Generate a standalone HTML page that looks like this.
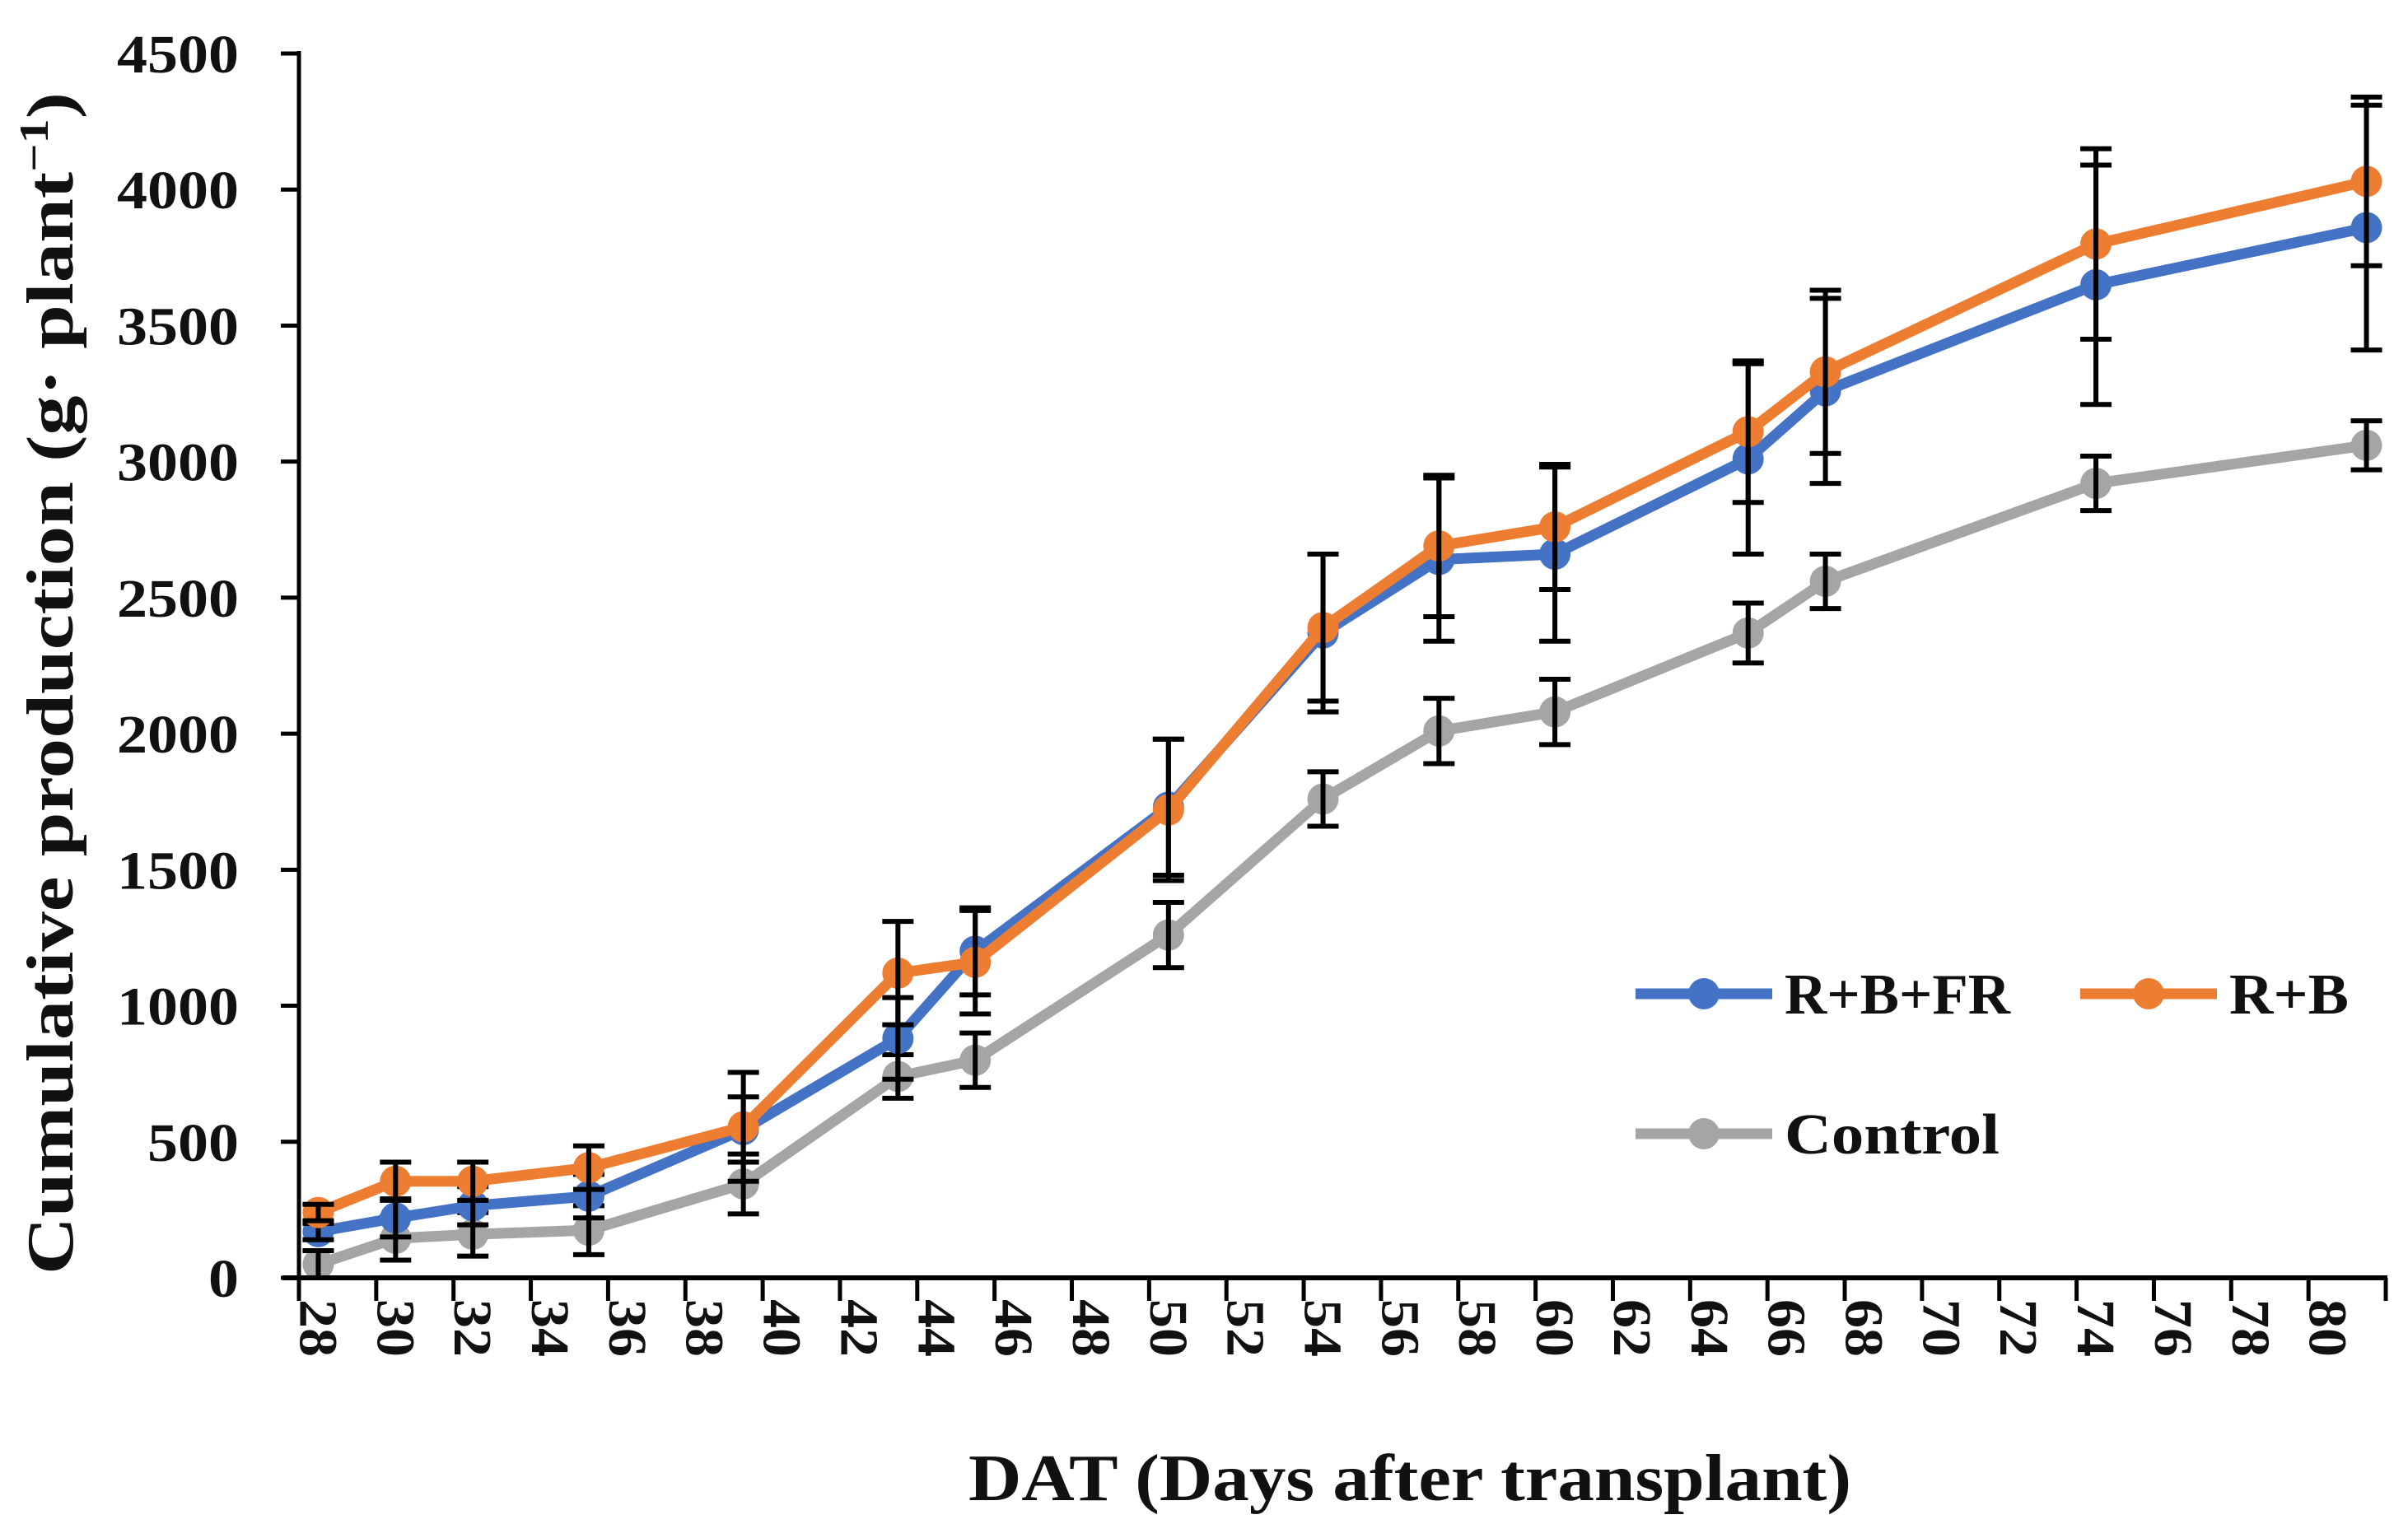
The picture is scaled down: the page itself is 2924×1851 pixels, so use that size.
<!DOCTYPE html>
<html><head><meta charset="utf-8">
<style>
html,body{margin:0;padding:0;background:#fff;}
svg{display:block;}
text{font-family:"Liberation Serif",serif;font-weight:bold;fill:#111;}
</style></head>
<body>
<svg id="chart" width="2924" height="1851" viewBox="0 0 2924 1851" xmlns="http://www.w3.org/2000/svg">
<g id="axes"></g>
<g id="series"></g>
<g id="legend"></g>
<text x="1712" y="1822" font-size="80" text-anchor="middle" textLength="1072" lengthAdjust="spacingAndGlyphs">DAT (Days after transplant)</text>
<text transform="translate(88,830) rotate(-90)" font-size="80" text-anchor="middle" textLength="1436" lengthAdjust="spacingAndGlyphs">Cumulative production (g· plant<tspan dy="-30" font-size="50">−1</tspan><tspan dy="30">)</tspan></text>
</svg>
<script>
const days = [28,30,32,35,39,43,45,50,54,57,60,65,67,74,81];
const blueVals = [170,220,265,300,545,880,1200,1730,2370,2640,2660,3010,3260,3650,3860];
const blueSd = [30,70,70,80,120,150,160,250,290,300,320,350,340,440,450];
const orangeVals = [240,355,355,405,555,1120,1160,1720,2390,2690,2760,3110,3330,3800,4030];
const orangeSd = [30,70,70,80,200,190,190,260,270,260,230,260,300,350,310];
const grayVals = [50,145,160,175,345,740,800,1260,1760,2010,2080,2370,2560,2920,3060];
const graySd = [50,80,80,90,110,80,100,120,100,120,120,110,100,100,90];
const yTicks = [0,500,1000,1500,2000,2500,3000,3500,4000,4500];
const xTickLabels = [28,30,32,34,36,38,40,42,44,46,48,50,52,54,56,58,60,62,64,66,68,70,72,74,76,78,80];

const NS = "http://www.w3.org/2000/svg";
const X0 = 363, X1 = 2897, Y0 = 1552, Y1 = 65;
const dayW = (X1 - X0) / 54;
function xScale(d){ return X0 + (d - 28 + 0.5) * dayW; }
function yScale(v){ return Y0 - v / 4500 * (Y0 - Y1); }
function mk(tag, attrs, parent){ const e = document.createElementNS(NS, tag); for (const k in attrs) e.setAttribute(k, attrs[k]); parent.appendChild(e); return e; }

const axes = document.getElementById('axes');
let e;
e = mk('line',{x1:X0,y1:Y1-3,x2:X0,y2:Y0+2,stroke:'#000','stroke-width':5},axes);


e = mk('line',{x1:X0-20,y1:Y0,x2:X1+2,y2:Y0,stroke:'#000','stroke-width':6},axes);


yTicks.forEach(v => {
  const y = yScale(v);
  const t = mk('line',{x1:X0-22,y1:y,x2:X0,y2:y,stroke:'#000','stroke-width':5},axes);
  
  
  const s = String(v);
  const l = mk('text',{x:290,y:y+23,'font-size':66,'text-anchor':'end',textLength:s.length*37,lengthAdjust:'spacingAndGlyphs'},axes);
  l.textContent = s;
  
  
});
for (let i = 0; i <= 27; i++) {
  const x = X0 + i * 2 * dayW;
  const t = mk('line',{x1:x,y1:Y0,x2:x,y2:Y0+28,stroke:'#000','stroke-width':5},axes);
  
  
}
xTickLabels.forEach(d => {
  const x = xScale(d);
  const l = mk('text',{transform:`translate(${x-22},1578) rotate(90)`,'font-size':66,'text-anchor':'start',textLength:70,lengthAdjust:'spacingAndGlyphs'},axes);
  l.textContent = d;
  
  
});

const seriesG = document.getElementById('series');
function drawSeries(vals, sd, color, name){
  const g = mk('g',{},seriesG);
  
  
  const pts = days.map((d,i)=>xScale(d)+','+yScale(vals[i])).join(' ');
  const pl = mk('polyline',{points:pts,fill:'none',stroke:color,'stroke-width':13,'stroke-linejoin':'round'},g);
  
  
  days.forEach((d,i)=>{
    const c = mk('circle',{cx:xScale(d),cy:yScale(vals[i]),r:19,fill:color},g);
    
    
  });
  return g;
}
function drawErr(vals, sd, name){
  const g = mk('g',{},seriesG);
  
  
  days.forEach((d,i)=>{
    const x = xScale(d), yt = yScale(vals[i]+sd[i]), yb = yScale(Math.max(0,vals[i]-sd[i]));
    const p = mk('path',{d:`M${x},${yt}V${yb}M${x-19},${yt}H${x+19}M${x-19},${yb}H${x+19}`,stroke:'#000','stroke-width':6,fill:'none'},g);
    
    
  });
}
drawSeries(grayVals, graySd, '#a5a5a5', 'control');
drawErr(grayVals, graySd, 'control');
drawSeries(blueVals, blueSd, '#4472c4', 'r-b-fr');
drawErr(blueVals, blueSd, 'r-b-fr');
drawSeries(orangeVals, orangeSd, '#ed7d31', 'r-b');
drawErr(orangeVals, orangeSd, 'r-b');

const lg = document.getElementById('legend');
function legendEntry(x, y, color, label, name, w){
  const g = mk('g',{},lg);
  
  
  mk('line',{x1:x,y1:y,x2:x+166,y2:y,stroke:color,'stroke-width':13},g);
  mk('circle',{cx:x+83,cy:y,r:19,fill:color},g);
  const t = mk('text',{x:x+181,y:y+24,'font-size':70,textLength:w,lengthAdjust:'spacingAndGlyphs'},g);
  t.textContent = label;
}
legendEntry(1986, 1207, '#4472c4', 'R+B+FR', 'r-b-fr', 274);
legendEntry(2526, 1207, '#ed7d31', 'R+B', 'r-b', 145);
legendEntry(1986, 1377, '#a5a5a5', 'Control', 'control', 261);
</script>
</body></html>
